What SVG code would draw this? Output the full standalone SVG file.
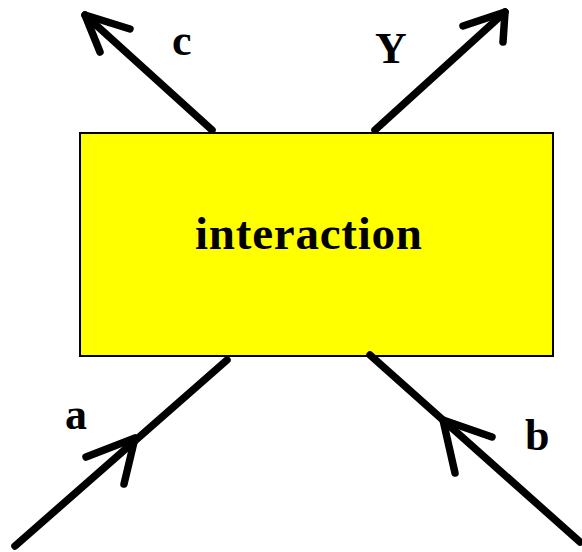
<svg xmlns="http://www.w3.org/2000/svg" width="582" height="552" viewBox="0 0 582 552">
<style>
.ln{stroke:#000;stroke-width:7.5;fill:none;stroke-linecap:round;stroke-linejoin:round}
.lbl{font-family:"Liberation Serif","Times New Roman",serif;font-weight:bold;font-size:44px;fill:#000}
</style>
<rect width="582" height="552" fill="#fff"/>
<g id="interaction">
<rect x="80" y="133" width="473" height="223" fill="#ffff00" stroke="#000" stroke-width="2"/>
<text class="lbl" x="195" y="249" style="font-size:47px" textLength="227" lengthAdjust="spacing">interaction</text>
</g>
<g id="connectors">
<g id="edge-c">
<line class="ln" x1="212" y1="130" x2="85" y2="15"/>
<polyline class="ln" points="130,29 85,15 100,52"/>
</g>
<g id="edge-Y">
<line class="ln" x1="375" y1="130" x2="505" y2="12"/>
<polyline class="ln" points="463,26 505,12 503,42"/>
</g>
<g id="edge-a">
<line class="ln" x1="15" y1="546" x2="227" y2="360"/>
<polyline class="ln" points="86,457 135,438 124,484"/>
</g>
<g id="edge-b">
<line class="ln" x1="370" y1="355" x2="580" y2="542"/>
<polyline class="ln" points="492,437 443,420 455,473"/>
</g>
</g>
<g id="labels">
<text class="lbl" x="172" y="55">c</text>
<text class="lbl" x="375" y="63">Y</text>
<text class="lbl" x="65" y="429">a</text>
<text class="lbl" x="525" y="450">b</text>
</g>
</svg>
